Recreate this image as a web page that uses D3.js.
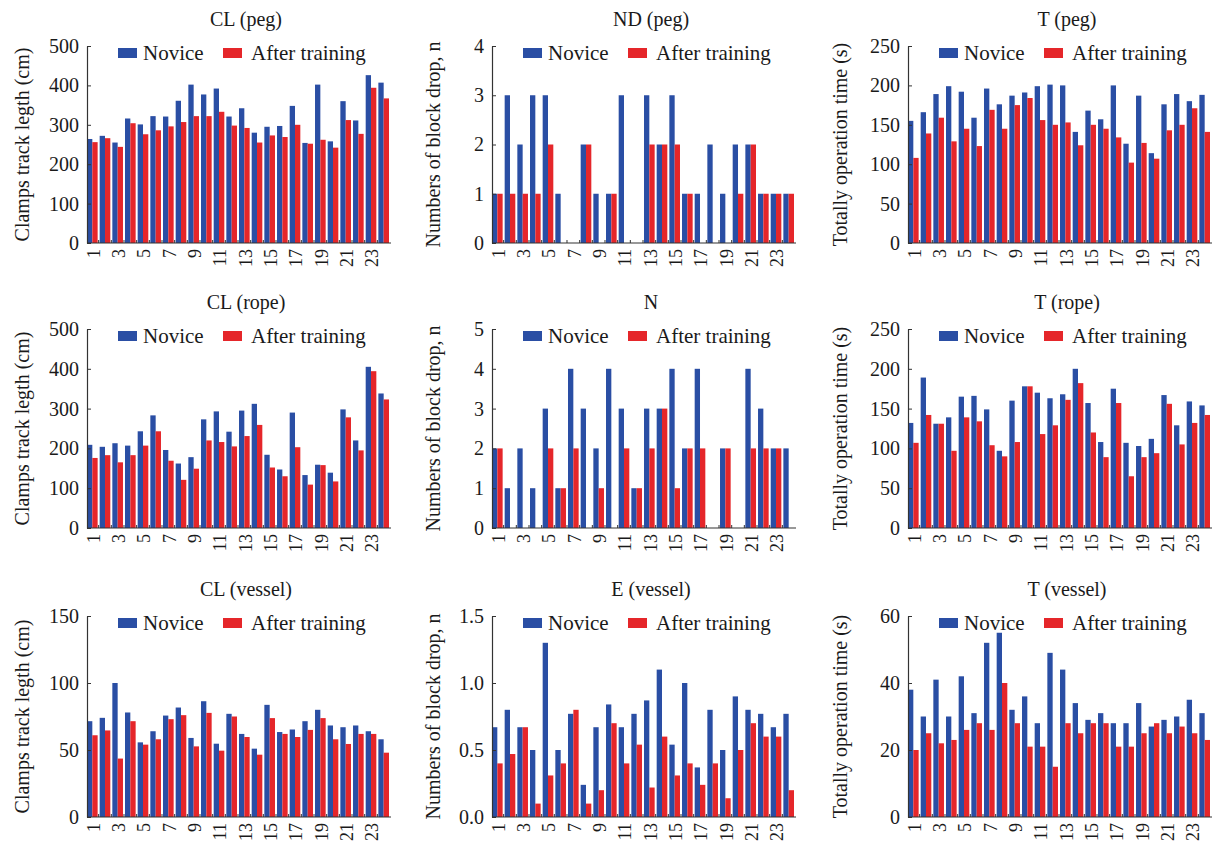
<!DOCTYPE html>
<html lang="en">
  <head>
    <meta charset="utf-8">
    <script src="https://d3js.org/d3.v7.min.js"></script>
    <style>
      body { margin: 0; background: #fff; }
      svg text { font-family: "Liberation Serif", "Times New Roman", Times, serif !important; fill: #1a1a1a; }
    </style>
  </head>
  <body>
    <script>

    // Subjects 1..24 and the odd ones shown as tick labels
    var subjects = ["1","2","3","4","5","6","7","8","9","10","11","12","13","14","15","16","17","18","19","20","21","22","23","24"];
    var xTickLabels = ["1","3","5","7","9","11","13","15","17","19","21","23"];

    // Peg task
    var clPegNovice  = [264,272,255,316,301,322,321,361,402,377,392,321,342,280,295,297,348,254,402,258,360,311,426,407];
    var clPegTrained = [256,266,244,304,276,286,296,307,322,322,333,298,292,255,273,269,300,252,262,242,312,277,394,367];
    var ndPegNovice  = [1,3,2,3,3,1,0,2,1,1,3,0,3,2,3,1,1,2,1,2,2,1,1,1];
    var ndPegTrained = [1,1,1,1,2,0,0,2,0,1,0,0,2,2,2,1,0,0,0,1,2,1,1,1];
    var tPegNovice   = [155,166,189,199,192,159,196,176,187,191,199,201,200,141,168,157,200,126,187,114,176,189,180,188];
    var tPegTrained  = [108,139,159,129,145,123,169,145,175,184,156,150,153,124,150,145,134,102,127,107,143,150,171,141];

    // Rope task
    var clRopeNovice  = [209,204,213,207,243,283,196,162,178,273,293,242,295,312,184,147,290,133,159,139,298,220,405,338];
    var clRopeTrained = [176,183,165,183,207,243,169,121,149,220,216,205,231,259,152,130,203,109,158,117,278,195,394,323];
    var nRopeNovice   = [2,1,2,1,3,1,4,3,2,4,3,1,3,3,4,2,4,0,2,0,4,3,2,2];
    var nRopeTrained  = [2,0,0,0,2,1,2,0,1,0,2,1,2,3,1,2,2,0,2,0,2,2,2,0];
    var tRopeNovice   = [132,189,131,139,165,166,149,97,160,178,170,163,168,200,157,108,175,107,103,112,167,129,159,154];
    var tRopeTrained  = [107,142,131,97,139,134,104,90,108,178,118,129,161,182,120,89,157,65,89,94,156,105,132,142];

    // Vessel task
    var clVesselNovice  = [71.5,74,100,78,55.7,64,75.7,81.7,59,86.4,54.7,77,62,51,83.7,63.4,65.3,71.5,80,68.3,67,68.3,64,58];
    var clVesselTrained = [61,64.6,43.6,71.5,54,58,73,76,52.7,77.7,49.5,75,59.7,46.5,73.8,62,59.7,65,73.8,58,54.5,62,62,48];
    var eVesselNovice   = [0.67,0.80,0.67,0.50,1.30,0.50,0.77,0.24,0.67,0.84,0.67,0.77,0.87,1.10,0.54,1.00,0.37,0.80,0.50,0.90,0.80,0.77,0.67,0.77];
    var eVesselTrained  = [0.40,0.47,0.67,0.10,0.31,0.40,0.80,0.10,0.20,0.70,0.40,0.54,0.22,0.60,0.31,0.40,0.24,0.40,0.14,0.50,0.70,0.60,0.60,0.20];
    var tVesselNovice   = [38,30,41,30,42,31,52,55,32,36,28,49,44,34,29,31,28,28,34,27,29,30,35,31];
    var tVesselTrained  = [20,25,22,23,26,28,26,40,28,21,21,15,28,25,28,28,21,21,25,28,25,27,25,23];

    var seriesNames = ["Novice", "After training"];
    var colors = ["#2a4ea4", "#e5262a"];

    var yCL = "Clamps track legth (cm)";
    var yND = "Numbers of block drop, n";
    var yT = "Totally operation time (s)";

    var intFmt = d3.format("d");
    var panels = [
      {title: "CL (peg)",    ylabel: yCL, nov: clPegNovice,    aft: clPegTrained,    ticks: [0,100,200,300,400,500]},
      {title: "ND (peg)",    ylabel: yND, nov: ndPegNovice,    aft: ndPegTrained,    ticks: [0,1,2,3,4]},
      {title: "T (peg)",     ylabel: yT,  nov: tPegNovice,     aft: tPegTrained,     ticks: [0,50,100,150,200,250]},
      {title: "CL (rope)",   ylabel: yCL, nov: clRopeNovice,   aft: clRopeTrained,   ticks: [0,100,200,300,400,500]},
      {title: "N",           ylabel: yND, nov: nRopeNovice,    aft: nRopeTrained,    ticks: [0,1,2,3,4,5]},
      {title: "T (rope)",    ylabel: yT,  nov: tRopeNovice,    aft: tRopeTrained,    ticks: [0,50,100,150,200,250]},
      {title: "CL (vessel)", ylabel: yCL, nov: clVesselNovice, aft: clVesselTrained, ticks: [0,50,100,150]},
      {title: "E (vessel)",  ylabel: yND, nov: eVesselNovice,  aft: eVesselTrained,  ticks: [0,0.5,1.0,1.5], fmt: d3.format(".1f")},
      {title: "T (vessel)",  ylabel: yT,  nov: tVesselNovice,  aft: tVesselTrained,  ticks: [0,20,40,60]}
    ];

    // Layout of the 3x3 grid
    var colX = [87, 492, 908];
    var ylabelOffset = [65, 59, 68];
    var rowTop = [46, 329, 616];
    var rowBottom = [243, 528, 817];
    var plotW = 302;
    var serif = "'Liberation Serif', 'Times New Roman', Times, serif";

    var svg = d3.select("body").append("svg")
                .attr("width", 1217)
                .attr("height", 847)
                .attr("font-family", serif);

    panels.forEach(function(p, i) {
      var col = i % 3, row = Math.floor(i / 3);
      var h = rowBottom[row] - rowTop[row];
      var g = svg.append("g")
                 .attr("transform", "translate(" + colX[col] + "," + rowTop[row] + ")");

      var yMax = p.ticks[p.ticks.length - 1];
      var y = d3.scaleLinear().domain([0, yMax]).range([h, 0]);
      var x = d3.scaleBand().domain(subjects).range([0, plotW]).paddingInner(0.16).paddingOuter(0);
      var xs = d3.scaleBand().domain(seriesNames).range([0, x.bandwidth()]);

      var rows = subjects.map(function(s, k) {
        return {subject: s, values: [{key: seriesNames[0], v: p.nov[k]}, {key: seriesNames[1], v: p.aft[k]}]};
      });

      // Bars
      g.selectAll("g.grp")
        .data(rows)
        .join("g")
          .attr("class", "grp")
          .attr("transform", function(d) { return "translate(" + x(d.subject) + ",0)"; })
        .selectAll("rect")
        .data(function(d) { return d.values; })
        .join("rect")
          .attr("x", function(d) { return xs(d.key); })
          .attr("y", function(d) { return y(d.v); })
          .attr("width", xs.bandwidth())
          .attr("height", function(d) { return h - y(d.v); })
          .attr("fill", function(d, j) { return colors[j]; });

      // Y axis with inward ticks
      var yAxis = d3.axisLeft(y)
                    .tickValues(p.ticks)
                    .tickFormat(p.fmt || intFmt)
                    .tickSizeInner(-4)
                    .tickSizeOuter(0)
                    .tickPadding(8);
      var ya = g.append("g").call(yAxis).attr("font-family", serif);
      ya.select(".domain").attr("stroke", "#333").attr("stroke-width", 1.2);
      ya.selectAll(".tick line").attr("stroke", "#333");
      ya.selectAll("text").style("font-size", "20px").attr("fill", "#1a1a1a");

      // X axis: odd subject labels, rotated
      var xAxis = d3.axisBottom(x).tickValues(xTickLabels).tickSize(0).tickSizeOuter(0);
      var xa = g.append("g")
                .attr("transform", "translate(0," + h + ")")
                .attr("font-family", serif)
                .call(xAxis);
      xa.attr("font-family", serif);
      xa.select(".domain").attr("stroke", "#333").attr("stroke-width", 1.2)
        .attr("d", "M0,0H" + (plotW + 2));
      xa.selectAll("text")
        .attr("transform", "rotate(-90)")
        .attr("x", -6)
        .attr("y", 1)
        .attr("dy", "0.35em")
        .style("text-anchor", "end")
        .style("font-size", "18px")
        .attr("fill", "#1a1a1a");

      // small ticks between groups
      g.append("g").selectAll("line")
        .data(subjects.slice(1))
        .join("line")
          .attr("x1", function(d) { return x(d) - x.step() * x.paddingInner() / 2; })
          .attr("x2", function(d) { return x(d) - x.step() * x.paddingInner() / 2; })
          .attr("y1", h)
          .attr("y2", h - 3)
          .attr("stroke", "#333");

      // Title
      g.append("text")
        .attr("x", plotW / 2 + 8)
        .attr("y", -20)
        .style("text-anchor", "middle")
        .style("font-size", "20px")
        .text(p.title);

      // Y label
      g.append("text")
        .attr("transform", "rotate(-90)")
        .attr("x", -h / 2)
        .attr("y", -ylabelOffset[col])
        .attr("dy", "0.35em")
        .style("text-anchor", "middle")
        .style("font-size", "20px")
        .text(p.ylabel);

      // Legend
      var legX = [31, 136];
      var legTextX = [56, 164];
      seriesNames.forEach(function(name, j) {
        g.append("rect")
          .attr("x", legX[j])
          .attr("y", 2)
          .attr("width", 19)
          .attr("height", 10)
          .attr("fill", colors[j]);
        g.append("text")
          .attr("x", legTextX[j])
          .attr("y", 14)
          .style("font-size", "21px")
          .text(name);
      });
    });
    </script>
  </body>
</html>
